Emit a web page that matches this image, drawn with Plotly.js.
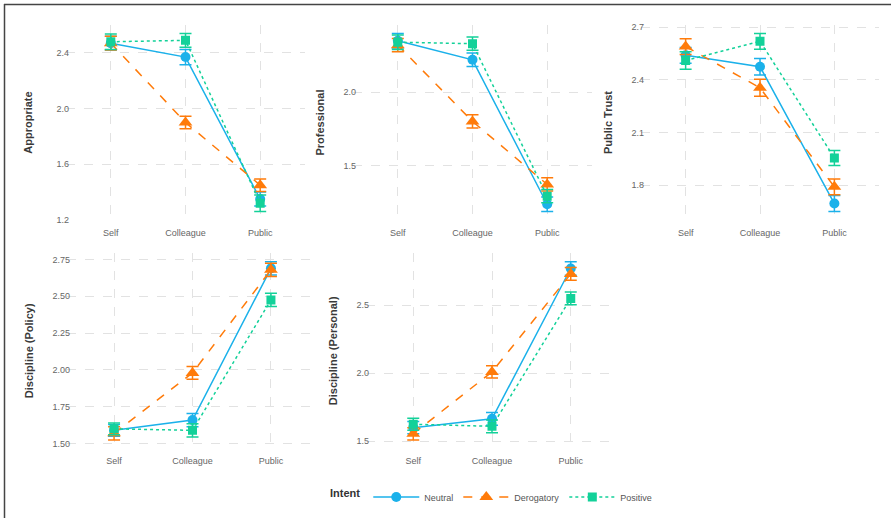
<!DOCTYPE html>
<html>
<head>
<meta charset="utf-8">
<script src="https://cdn.plot.ly/plotly-3.0.1.min.js"></script>
<style>html,body{margin:0;padding:0;background:#fff;}#chart{width:891px;height:518px;}</style>
</head>
<body>
<div id="chart"></div>
<script>
// ---- data ----
const categories = ['Self', 'Colleague', 'Public'];
const intents = ['Neutral', 'Derogatory', 'Positive'];

const appropriateNeutral = [2.47, 2.37, 1.35];
const appropriateNeutralErr = [0.05, 0.055, 0.05];
const appropriateDerogatory = [2.47, 1.90, 1.45];
const appropriateDerogatoryErr = [0.05, 0.045, 0.045];
const appropriatePositive = [2.48, 2.49, 1.32];
const appropriatePositiveErr = [0.055, 0.05, 0.06];

const professionalNeutral = [2.35, 2.22, 1.235];
const professionalNeutralErr = [0.05, 0.046, 0.05];
const professionalDerogatory = [2.32, 1.80, 1.37];
const professionalDerogatoryErr = [0.045, 0.045, 0.045];
const professionalPositive = [2.34, 2.33, 1.29];
const professionalPositiveErr = [0.05, 0.045, 0.045];

const trustNeutral = [2.54, 2.475, 1.695];
const trustNeutralErr = [0.045, 0.047, 0.046];
const trustDerogatory = [2.59, 2.355, 1.79];
const trustDerogatoryErr = [0.045, 0.048, 0.045];
const trustPositive = [2.51, 2.62, 1.955];
const trustPositiveErr = [0.05, 0.045, 0.043];

const policyNeutral = [1.59, 1.66, 2.69];
const policyNeutralErr = [0.04, 0.045, 0.045];
const policyDerogatory = [1.57, 1.98, 2.68];
const policyDerogatoryErr = [0.045, 0.043, 0.045];
const policyPositive = [1.60, 1.59, 2.475];
const policyPositiveErr = [0.04, 0.045, 0.045];

const personalNeutral = [1.60, 1.665, 2.77];
const personalNeutralErr = [0.045, 0.047, 0.05];
const personalDerogatory = [1.555, 2.01, 2.73];
const personalDerogatoryErr = [0.045, 0.045, 0.047];
const personalPositive = [1.625, 1.61, 2.55];
const personalPositiveErr = [0.045, 0.047, 0.047];

const panelTitles = ['Appropriate', 'Professional', 'Public Trust', 'Discipline (Policy)', 'Discipline (Personal)'];
const panelTickStep = [0.4, 0.5, 0.3, 0.25, 0.5];
const panelTick0 = [1.2, 1.5, 1.8, 1.5, 1.5];
const panelTickFormat = ['.1f', '.1f', '.1f', '.2f', '.1f'];

// ---- styling ----
const W = 891, H = 518;
const colors = ['#1BB1EA', '#FF7B0A', '#13D199'];
const dashes = ['solid', 'dash', 'dot'];
const symbols = ['circle', 'triangle-up', 'square'];
const msizes = [10, 12, 9];
const font = 'Liberation Sans, Arial, sans-serif';
const titleStandoff = [21, 16, 16, 16, 16];

const panels = [
  [[appropriateNeutral, appropriateNeutralErr], [appropriateDerogatory, appropriateDerogatoryErr], [appropriatePositive, appropriatePositiveErr]],
  [[professionalNeutral, professionalNeutralErr], [professionalDerogatory, professionalDerogatoryErr], [professionalPositive, professionalPositiveErr]],
  [[trustNeutral, trustNeutralErr], [trustDerogatory, trustDerogatoryErr], [trustPositive, trustPositiveErr]],
  [[policyNeutral, policyNeutralErr], [policyDerogatory, policyDerogatoryErr], [policyPositive, policyPositiveErr]],
  [[personalNeutral, personalNeutralErr], [personalDerogatory, personalDerogatoryErr], [personalPositive, personalPositiveErr]]
];

// pixel domains
const xDom = [[66, 305], [353, 592], [641, 879], [67, 318], [366, 618]];
const yDom = [[24.5, 220.5], [24.5, 220.5], [24.5, 220.5], [252.8, 448.8], [252.8, 448.8]];

const traces = [];
const layout = {
  width: W, height: H,
  margin: {l: 0, r: 0, t: 0, b: 0},
  paper_bgcolor: '#fff', plot_bgcolor: '#fff',
  font: {family: font, color: '#555'},
  showlegend: true,
  legend: {
    orientation: 'h', x: 328 / W, y: 1 - 497 / H, xanchor: 'left', yanchor: 'middle',
    title: {text: '<b>Intent</b>', font: {size: 11, color: '#333', family: font}, side: 'left'},
    font: {size: 9, color: '#555', family: font},
    itemwidth: 46
  },
  shapes: [
    {type: 'line', xref: 'paper', yref: 'paper', x0: 4 / W, x1: 1, y0: 1 - 4.5 / H, y1: 1 - 4.5 / H, line: {color: '#444', width: 1.5}},
    {type: 'line', xref: 'paper', yref: 'paper', x0: 4.5 / W, x1: 4.5 / W, y0: 0, y1: 1 - 4 / H, line: {color: '#444', width: 1.5}}
  ]
};

panels.forEach((series, p) => {
  const ax = p === 0 ? '' : String(p + 1);
  let lo = Infinity, hi = -Infinity;
  series.forEach(([v, e]) => v.forEach((val, i) => { lo = Math.min(lo, val - e[i]); hi = Math.max(hi, val + e[i]); }));
  const pad = (hi - lo) * 0.05;
  series.forEach(([v, e], s) => {
    traces.push({
      type: 'scatter', mode: 'lines+markers',
      x: categories, y: v,
      xaxis: 'x' + ax, yaxis: 'y' + ax,
      name: intents[s], legendgroup: intents[s], showlegend: p === 0,
      line: {color: colors[s], width: 1.5, dash: dashes[s]},
      marker: {color: colors[s], symbol: symbols[s], size: msizes[s]},
      error_y: {type: 'data', array: e, visible: true, color: colors[s], thickness: 1.5, width: 6}
    });
  });
  layout['xaxis' + ax] = {
    domain: [xDom[p][0] / W, xDom[p][1] / W],
    anchor: 'y' + ax,
    type: 'category', range: [-0.6, 2.6],
    showgrid: true, gridcolor: '#e2e2e2', griddash: 'dash', gridwidth: 1,
    zeroline: false, showline: false, ticks: '', ticklabelstandoff: 5,
    tickfont: {size: 9, color: '#666', family: font}, fixedrange: true
  };
  layout['yaxis' + ax] = {
    domain: [1 - yDom[p][1] / H, 1 - yDom[p][0] / H],
    anchor: 'x' + ax,
    range: [lo - pad, hi + pad],
    tick0: panelTick0[p], dtick: panelTickStep[p], tickformat: panelTickFormat[p],
    showgrid: true, gridcolor: '#e2e2e2', griddash: 'dash', gridwidth: 1,
    zeroline: false, showline: false, ticks: '', ticklabelstandoff: -4,
    tickfont: {size: 9, color: '#666', family: font},
    title: {text: '<b>' + panelTitles[p] + '</b>', font: {size: 11, color: '#3a3a3a', family: font}, standoff: titleStandoff[p]},
    fixedrange: true
  };
});

Plotly.newPlot('chart', traces, layout, {displayModeBar: false, staticPlot: true});
</script>
</body>
</html>
